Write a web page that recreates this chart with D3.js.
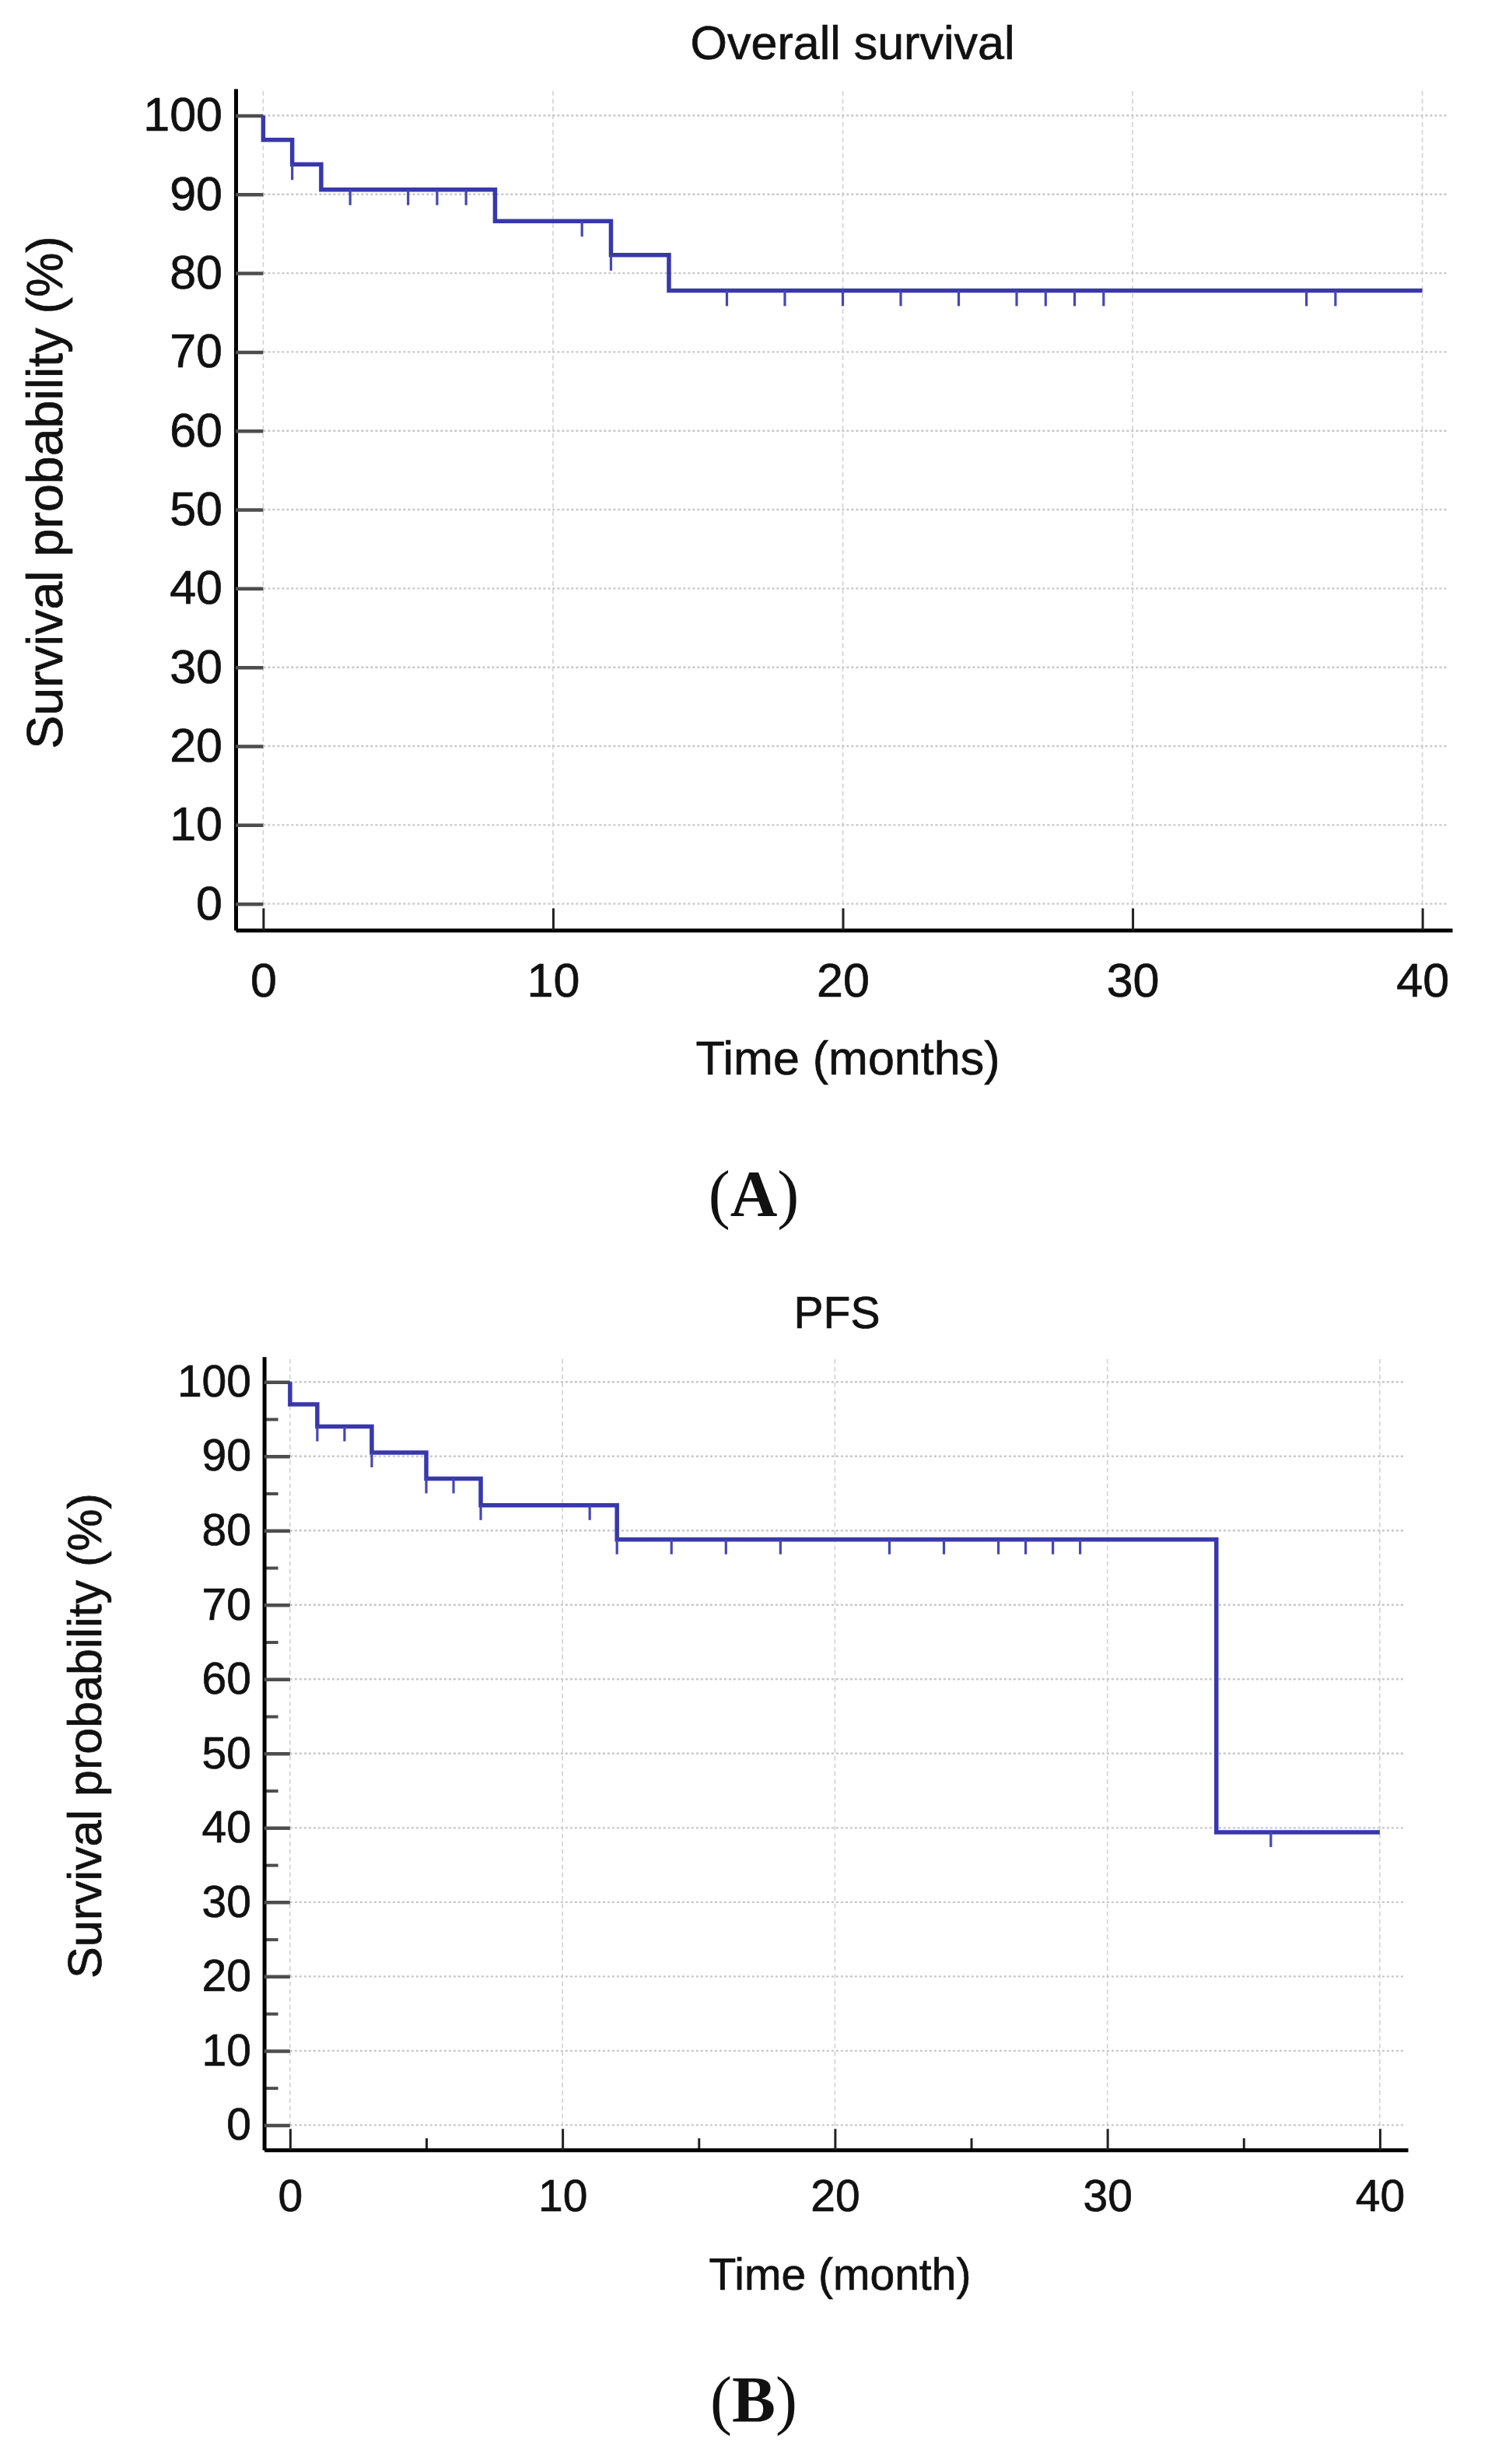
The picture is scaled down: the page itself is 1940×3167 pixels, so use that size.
<!DOCTYPE html>
<html lang="en">

<head>
    <meta charset="UTF-8">
    <title>Overall survival and PFS</title>
    <script src="https://d3js.org/d3.v7.min.js"></script>
    <style>
        body {
            margin: 0;
            background: #fff;
        }

        text {
            font-family: "Liberation Sans", Arial, sans-serif;
            fill: #111;
            stroke: #111;
            stroke-width: 0.7px;
        }

        .panel-label {
            font-family: "Liberation Serif", "Times New Roman", serif;
            stroke-width: 0;
        }
    </style>
</head>

<body>
    <script>
        // ---- data ----
        // Overall survival: step points (time in months, survival %)
        const osTime = [0, 0, 1, 2, 8, 12, 14, 40];
        const osSurv = [100, 96.9, 93.8, 90.6, 86.6, 82.3, 77.8, 77.8];
        const osCensored = [1, 3, 5, 6, 7, 11, 12, 16, 18, 20, 22, 24, 26, 27, 28, 29, 36, 37];

        // PFS
        const pfsTime = [0, 0, 1, 3, 5, 7, 12, 34, 40];
        const pfsSurv = [100, 97.0, 94.0, 90.5, 87.0, 83.4, 78.8, 39.4, 39.4];
        const pfsCensored = [1, 2, 3, 5, 6, 7, 11, 12, 14, 16, 18, 22, 24, 26, 27, 28, 29, 36];

        const xTicks = [0, 10, 20, 30, 40];
        const yTicks = [0, 10, 20, 30, 40, 50, 60, 70, 80, 90, 100];
        const xMinor = [5, 15, 25, 35];
        const yMinor = [5, 15, 25, 35, 45, 55, 65, 75, 85, 95];

        const svg = d3.select("body").append("svg")
            .attr("width", 1940)
            .attr("height", 3167);

        const blue = "#3838ac";

        // panel settings (layout only)
        const panels = [
            {
                title: "Overall survival", xTitle: "Time (months)", yTitle: "Survival probability (%)",
                label: "A", time: osTime, surv: osSurv, censored: osCensored, minor: false,
                left: 303, right: 1867, top: 114, bottom: 1195.5,
                font: 61, yTitleFont: 64.5,
                titlePos: [1096, 76], xTitlePos: [1090, 1381], yTitlePos: [80, 633], labelPos: [969, 1563],
                yPad: 17, xPad: 42, censorLen: 20, xTickLen: 28
            },
            {
                title: "PFS", xTitle: "Time (month)", yTitle: "Survival probability (%)",
                label: "B", time: pfsTime, surv: pfsSurv, censored: pfsCensored, minor: true,
                left: 339.6, right: 1810, top: 1743.75, bottom: 2763.3,
                font: 57, yTitleFont: 61,
                titlePos: [1076, 1707], xTitlePos: [1080, 2943], yTitlePos: [130, 2231], labelPos: [969, 3113],
                yPad: 16.6, xPad: 38, censorLen: 19, xTickLen: 27
            }
        ];

        panels.forEach(p => {
            const x = d3.scaleLinear().domain([-0.95, 41.03]).range([p.left, p.right]);
            const y = d3.scaleLinear().domain([-3.34, 103.4]).range([p.bottom, p.top]);
            const g = svg.append("g");

            // grid
            g.append("g").selectAll("line")
                .data(xTicks)
                .join("line")
                .attr("x1", d => x(d)).attr("x2", d => x(d))
                .attr("y1", p.top + 3).attr("y2", p.bottom)
                .attr("stroke", "#d2d2d2")
                .attr("stroke-width", 1.6)
                .attr("stroke-dasharray", "6,4");

            g.append("g").selectAll("line")
                .data(yTicks)
                .join("line")
                .attr("x1", x(0)).attr("x2", x(40) + 32)
                .attr("y1", d => y(d)).attr("y2", d => y(d))
                .attr("stroke", "#c8c8c8")
                .attr("stroke-width", 2.4)
                .attr("stroke-dasharray", "3,3");

            // minor ticks (PFS only)
            if (p.minor) {
                g.append("g")
                    .attr("transform", `translate(${p.left},0)`)
                    .call(d3.axisLeft(y).tickValues(yMinor).tickSize(-18).tickSizeOuter(0).tickFormat(""))
                    .call(a => a.select(".domain").remove())
                    .call(a => a.selectAll(".tick line").attr("stroke", "#4d4d4d").attr("stroke-width", 4));
                g.append("g")
                    .attr("transform", `translate(0,${p.bottom})`)
                    .call(d3.axisBottom(x).tickValues(xMinor).tickSize(-15).tickSizeOuter(0).tickFormat(""))
                    .call(a => a.select(".domain").remove())
                    .call(a => a.selectAll(".tick line").attr("stroke", "#222").attr("stroke-width", 3));
            }

            // y axis
            g.append("g")
                .attr("transform", `translate(${p.left},0)`)
                .call(d3.axisLeft(y).tickValues(yTicks).tickSize(-(x(0) - p.left)).tickSizeOuter(0).tickPadding(p.yPad))
                .call(a => a.select(".domain").attr("stroke", "#000").attr("stroke-width", 5))
                .call(a => a.selectAll(".tick line").attr("stroke", "#4d4d4d").attr("stroke-width", 4.5))
                .call(a => a.selectAll(".tick text").attr("font-size", p.font).attr("fill", "#111")
                    .style("font-family", "'Liberation Sans', Arial, sans-serif"));

            // x axis
            g.append("g")
                .attr("transform", `translate(0,${p.bottom})`)
                .call(d3.axisBottom(x).tickValues(xTicks).tickSize(-p.xTickLen).tickSizeOuter(0).tickPadding(p.xPad))
                .call(a => a.select(".domain").attr("stroke", "#000").attr("stroke-width", 5))
                .call(a => a.selectAll(".tick line").attr("stroke", "#222").attr("stroke-width", 3))
                .call(a => a.selectAll(".tick text").attr("font-size", p.font).attr("fill", "#111")
                    .style("font-family", "'Liberation Sans', Arial, sans-serif"));

            // survival curve
            const pts = p.time.map((t, i) => [t, p.surv[i]]);
            const line = d3.line()
                .x(d => x(d[0]))
                .y(d => y(d[1]))
                .curve(d3.curveStepAfter);

            g.append("path")
                .datum(pts)
                .attr("d", line)
                .attr("fill", "none")
                .attr("stroke", blue)
                .attr("stroke-width", 5.5)
                .attr("stroke-linejoin", "miter");

            // censor marks hang down from the curve
            const levelAt = t => {
                let s = p.surv[0];
                p.time.forEach((tt, i) => { if (tt <= t) s = p.surv[i]; });
                return s;
            };
            g.append("g").selectAll("line")
                .data(p.censored)
                .join("line")
                .attr("x1", d => x(d)).attr("x2", d => x(d))
                .attr("y1", d => y(levelAt(d)))
                .attr("y2", d => y(levelAt(d)) + p.censorLen)
                .attr("stroke", "#4646b2")
                .attr("stroke-width", 3.2);

            // titles
            g.append("text")
                .attr("x", p.titlePos[0]).attr("y", p.titlePos[1])
                .attr("text-anchor", "middle")
                .attr("font-size", p.font)
                .text(p.title);

            g.append("text")
                .attr("x", p.xTitlePos[0]).attr("y", p.xTitlePos[1])
                .attr("text-anchor", "middle")
                .attr("font-size", p.font)
                .text(p.xTitle);

            g.append("text")
                .attr("transform", `translate(${p.yTitlePos[0]},${p.yTitlePos[1]}) rotate(-90)`)
                .attr("text-anchor", "middle")
                .attr("font-size", p.yTitleFont)
                .text(p.yTitle);

            // panel letter, e.g. (A)
            const lab = g.append("text")
                .attr("class", "panel-label")
                .attr("x", p.labelPos[0]).attr("y", p.labelPos[1])
                .attr("text-anchor", "middle")
                .attr("font-size", 84);
            lab.append("tspan").text("(");
            lab.append("tspan").attr("font-weight", "bold").text(p.label);
            lab.append("tspan").text(")");
        });
    </script>
</body>

</html>
